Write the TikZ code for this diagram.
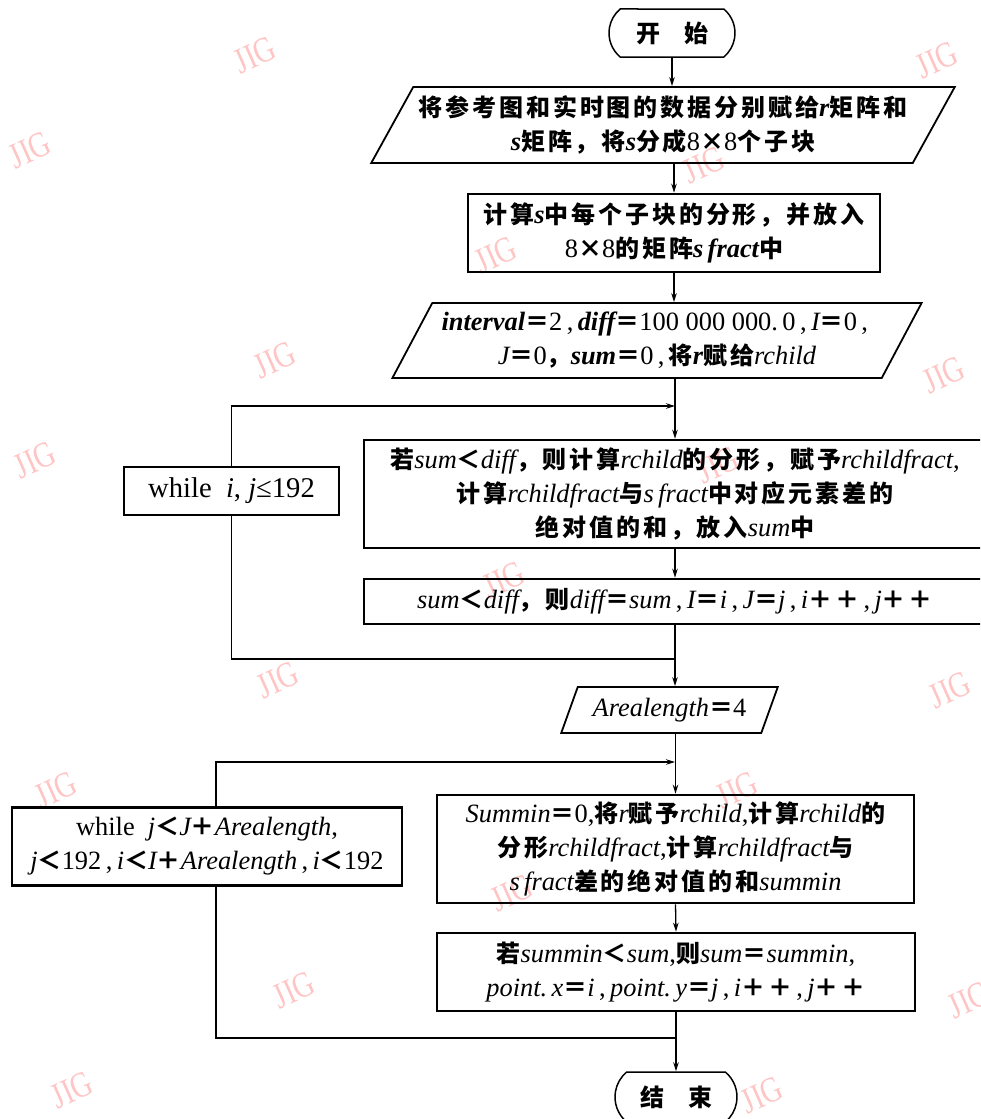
\documentclass[tikz,border=0pt]{standalone}
\usepackage{fontspec}
\setmainfont{Liberation Serif}
\newfontfamily\lat[Scale=1.1]{Liberation Serif}
\newfontfamily\wmfont{Liberation Serif}
\newfontfamily\cjk[LetterSpace=12]{Noto Sans CJK SC}
\usetikzlibrary{shapes.geometric,shapes.misc,arrows.meta}
\newcommand\vb[1]{{\lat\bfseries\itshape #1}}
\newcommand\vi[1]{{\lat\mdseries\itshape #1}}
\newcommand\nm[1]{{\lat\mdseries\upshape #1}}
\newcommand\cm{\nm{\,,\,}}
\definecolor{wmpink}{RGB}{255,196,196}
\tikzset{
  base/.style={align=center, inner sep=0pt, font=\cjk\bfseries\fontsize{24}{34}\selectfont},
  box/.style={base, draw, line width=2.6pt, rectangle},
  para/.style={base, draw, line width=1.8pt, trapezium, trapezium stretches=true},
  term/.style={base, draw, line width=1.5pt, rounded rectangle, rounded rectangle arc length=100},
  conn/.style={line width=1.3pt},
  arr/.style={conn, -{Stealth[length=9pt,width=5.5pt]}},
  wm/.style={text=wmpink, font=\wmfont\fontsize{36}{36}\selectfont, rotate=24, xscale=0.8}
}
\begin{document}
\begin{tikzpicture}[x=1pt,y=-1pt]
\useasboundingbox (0,0) rectangle (980,1119);
\clip (0,0) rectangle (980,1119);
% watermarks
\foreach \x/\y [count=\k] in {255/55,937/60,30/150,704/165,496/255,275/360,944/375,35/460,718/465,504/580,278/680,950/690,56/790,737/790,512/893,294/990,969/1000,72/1090,762/1095}
  \node[wm] (wm\k) at (\x,\y) {JIG};
% nodes
\node[term, minimum width=126pt, minimum height=48pt] (start) at (672,33) {开\hspace{24pt}始};
\node[para, trapezium left angle=55, trapezium right angle=125, minimum width=588pt, minimum height=76pt] (p1) at (663,125)
  {将参考图和实时图的数据分别赋给\vb{r}矩阵和\\\vb{s}矩阵，将\vb{s}分成\nm{8}×\nm{8}个子块};
\node[box, minimum width=412pt, minimum height=78pt] (b2) at (674,233)
  {计算\vb{s}中每个子块的分形，并放入\\\nm{8}×\nm{8}的矩阵\vb{s\,fract}中};
\node[para, trapezium left angle=56, trapezium right angle=124, minimum width=530pt, minimum height=75pt] (p2) at (657,340.5)
  {\vb{interval}＝\nm{2}\cm\vb{diff}＝\nm{100 000 000.\,0}\cm\vi{I}＝\nm{0}\cm\\\vi{J}＝\nm{0}，\vb{sum}＝\nm{0}\cm 将\vb{r}赋给\vi{rchild}};
\node[box, minimum width=622pt, minimum height=108pt] (b3) at (675,494)
  {若\vi{sum}＜\vi{diff}，则计算\vi{rchild}的分形，赋予\vi{rchildfract}\nm{,}\\计算\vi{rchildfract}与\vi{s\,fract}中对应元素差的\\绝对值的和，放入\vi{sum}中};
\node[box, minimum width=622pt, minimum height=45pt] (b4) at (675,601.5)
  {\vi{sum}＜\vi{diff}，则\vi{diff}＝\vi{sum}\cm\vi{I}＝\vi{i}\cm\vi{J}＝\vi{j}\cm\vi{i}＋＋\cm\vi{j}＋＋};
\node[box, minimum width=215pt, minimum height=48pt, font=\cjk\bfseries\fontsize{26}{34}\selectfont] (w1) at (231.5,491)
  {\nm{while\ \ }\vi{i}\nm{, }\vi{j}{\lat\mdseries ≤}\nm{192}};
\node[para, trapezium left angle=60, trapezium right angle=120, minimum width=217pt, minimum height=46pt] (p3) at (669.5,710)
  {\vi{Arealength}＝\nm{4}};
\node[box, minimum width=477pt, minimum height=108pt] (b5) at (675.5,849)
  {\vi{Summin}＝\nm{0}\nm{,}将\vi{r}赋予\vi{rchild}\nm{,}计算\vi{rchild}的\\分形\vi{rchildfract}\nm{,}计算\vi{rchildfract}与\\\vi{s\,fract}差的绝对值的和\vi{summin}};
\node[box, minimum width=478pt, minimum height=78pt] (b6) at (676,972)
  {若\vi{summin}＜\vi{sum}\nm{,}则\vi{sum}＝\vi{summin}\nm{,}\\\vi{point.\,x}＝\vi{i}\cm\vi{point.\,y}＝\vi{j}\cm\vi{i}＋＋\cm\vi{j}＋＋};
\node[box, minimum width=390pt, minimum height=78pt] (w2) at (207,846.5)
  {\nm{while\ \ }\vi{j}＜\vi{J}＋\vi{Arealength}\nm{,}\\\vi{j}＜\nm{192}\cm\vi{i}＜\vi{I}＋\vi{Arealength}\cm\vi{i}＜\nm{192}};
\node[term, minimum width=122pt, minimum height=50pt] (end) at (676,1097) {结\hspace{24pt}束};
% junctions
\coordinate (j1) at (675,406);
\coordinate (j2) at (675,659);
\coordinate (j3) at (675,762);
\coordinate (j4) at (675,1038);
% connectors
\draw[arr] (start.south) -- (start.south |- p1.north);
\draw[arr] (b2.north |- p1.south) -- (b2.north);
\draw[arr] (b2.south) -- (b2.south |- p2.north);
\draw[arr] (b3.north |- p2.south) -- (b3.north);
\draw[arr] (w1.north) |- (j1);
\draw[arr] (b3.south) -- (b4.north);
\draw[arr] (b4.south) -- (b4.south |- p3.north);
\draw[conn] (w1.south) |- (j2);
\draw[arr] (b5.north |- p3.south) -- (b5.north);
\draw[arr] ([xshift=9pt]w2.north) |- (j3);
\draw[arr] (b5.south) -- (b6.north);
\draw[conn] ([xshift=9pt]w2.south) |- (j4);
\draw[arr] (b6.south) -- (b6.south |- end.north);
\end{tikzpicture}
\end{document}
